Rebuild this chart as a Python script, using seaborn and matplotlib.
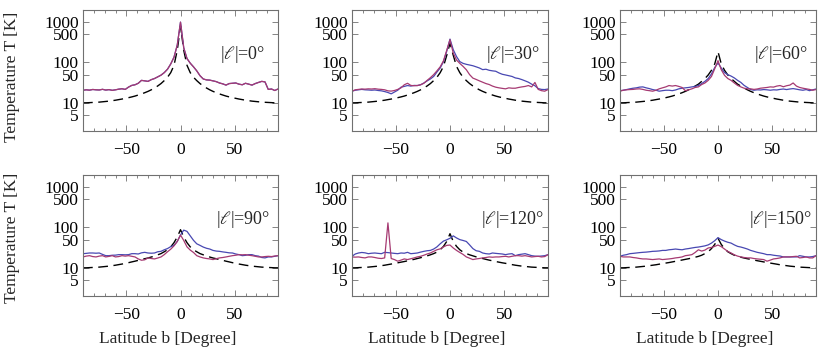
import numpy as np
import pandas as pd
import matplotlib
matplotlib.use("Agg")
import matplotlib.pyplot as plt
import seaborn as sns
from matplotlib.ticker import FixedLocator, NullLocator

# ---------------- data ----------------
latitude = list(range(-90, 91, 3))          # 61 grid points, degrees

panel_labels = [r"|$\ell$|=0°", r"|$\ell$|=30°", r"|$\ell$|=60°",
                r"|$\ell$|=90°", r"|$\ell$|=120°", r"|$\ell$|=150°"]

# measured temperature, "red" (magenta) series
red_0 = [20.5, 21.0, 20.6, 21.4, 21.0, 20.8, 21.6, 20.7, 21.2, 20.4,
         21.0, 21.8, 22.3, 21.5, 24.5, 27.0, 28.0, 30.5, 36.0, 35.0,
         34.0, 37.5, 40.0, 44.0, 48.5, 56.0, 68.0, 92.0, 135.0, 270.0,
         1000, 230, 125, 96, 78, 62, 47, 39, 37, 36.5,
         35.0, 33.5, 31.0, 29.5, 27.5, 30.0, 30.5, 31.0, 29.0, 28.0,
         30.5, 29.0, 27.5, 30.0, 32.0, 34.0, 33.0, 21.5, 22.0, 20.2,
         22.0]
blue_0 = [20.5, 21.0, 20.6, 21.4, 21.0, 20.8, 21.6, 20.7, 21.2, 20.4,
          21.0, 21.8, 22.3, 21.5, 24.5, 27.0, 28.0, 30.5, 36.0, 35.0,
          34.0, 37.5, 40.0, 44.0, 48.5, 56.0, 68.0, 92.0, 135.0, 270.0,
          1000, 230, 125, 96, 78, 62, 47, 39, 37, 36.5,
          35.0, 33.5, 31.0, 29.5, 27.5, 30.0, 30.5, 31.0, 29.0, 28.0,
          30.5, 29.0, 27.5, 30.0, 32.0, 34.0, 33.0, 21.5, 22.0, 20.2,
          22.0]

red_30 = [19.4, 21.0, 21.5, 22.0, 21.8, 22.2, 22.0, 22.4, 21.8, 21.5,
          21.0, 19.8, 19.5, 20.2, 21.5, 23.5, 28.0, 30.5, 27.0, 26.5,
          26.8, 28.0, 30.5, 36.0, 42.0, 50.0, 62.0, 78.0, 110, 200,
          366, 171, 115, 95, 80, 66, 50, 41, 38, 35,
          32.4, 30.0, 28.4, 26.0, 24.4, 23.5, 22.8, 22.2, 23.5, 23.0,
          23.0, 24.0, 24.8, 25.5, 26.8, 24.8, 32.0, 21.5, 20.0, 19.4,
          21.3]
blue_30 = [19.4, 20.5, 21.0, 21.5, 21.0, 20.8, 20.5, 20.8, 20.2, 19.8,
           19.0, 18.0, 16.7, 18.5, 20.5, 24.4, 25.5, 26.8, 26.0, 27.0,
           26.8, 28.0, 31.0, 35.0, 39.0, 45.0, 58.0, 73.0, 105, 190,
           380, 207, 140, 105, 95, 90, 86.5, 83, 78, 73,
           66.5, 68.0, 64.0, 62.0, 60.6, 55.0, 51.0, 49.0, 47.0, 45.0,
           41.4, 40.0, 37.6, 35.0, 32.4, 29.0, 26.5, 22.5, 21.5, 21.3,
           22.0]

red_60 = [19.4, 20.5, 21.0, 21.3, 21.5, 22.0, 22.2, 21.5, 20.5, 20.0,
          19.4, 20.5, 22.2, 23.5, 24.8, 26.8, 26.0, 26.8, 25.5, 24.0,
          20.0, 21.0, 22.2, 24.0, 24.8, 28.4, 31.0, 36.0, 45.0, 70.0,
          111, 66, 48, 40, 36, 31, 27, 24.8, 23.0, 22.2,
          22.2, 21.5, 22.0, 23.0, 23.5, 24.0, 24.8, 24.5, 26.0, 26.8,
          25.0, 26.5, 27.5, 31.0, 26.0, 24.0, 23.0, 22.2, 21.5, 20.5,
          21.3]
blue_60 = [20.0, 20.5, 21.3, 22.2, 23.0, 23.5, 24.5, 24.8, 23.5, 22.5,
           21.3, 20.5, 19.4, 20.0, 20.5, 20.5, 20.0, 20.8, 22.2, 23.0,
           23.5, 24.0, 24.8, 25.5, 26.8, 30.0, 34.0, 40.0, 52.0, 75.0,
           97, 73, 56, 50, 46, 41.4, 36.0, 32.0, 27.0, 24.0,
           21.3, 20.5, 21.0, 20.8, 21.3, 21.0, 20.5, 21.0, 20.8, 21.5,
           22.0, 21.3, 22.0, 22.5, 21.8, 21.0, 20.5, 21.3, 20.0, 21.0,
           22.0]

red_90 = [18.6, 19.5, 20.0, 19.0, 18.6, 19.5, 20.0, 18.6, 19.2, 20.0,
          18.6, 19.0, 20.0, 19.5, 20.0, 19.3, 18.6, 16.6, 15.4, 15.8,
          17.6, 17.0, 16.6, 17.5, 18.6, 21.2, 25.0, 29.0, 35.0, 45.0,
          65, 47.6, 33.0, 27.5, 24.0, 20.0, 18.6, 17.6, 17.0, 16.6,
          16.0, 16.8, 17.6, 18.0, 18.6, 19.3, 20.0, 20.5, 21.2, 21.0,
          21.2, 20.5, 20.0, 19.3, 18.6, 18.6, 19.0, 19.3, 19.0, 19.6,
          20.0]
blue_90 = [22.4, 22.8, 23.3, 23.3, 23.0, 23.3, 21.5, 20.0, 20.0, 20.5,
           20.6, 21.2, 21.2, 21.0, 21.2, 22.4, 22.4, 22.0, 23.5, 24.2,
           23.3, 23.0, 23.3, 25.0, 25.6, 28.0, 30.0, 33.5, 36.0, 45.0,
           65, 86, 80, 62, 48, 39.4, 36.0, 32.7, 30.5, 29.2,
           27.0, 26.0, 25.6, 24.8, 24.2, 23.5, 23.3, 22.0, 21.2, 20.0,
           20.4, 21.2, 21.2, 20.0, 19.5, 18.0, 17.6, 18.6, 18.6, 19.3,
           20.0]

red_120 = [18.6, 18.4, 18.6, 18.0, 17.6, 18.6, 18.6, 18.0, 17.3, 17.0,
           17.6, 130, 17.0, 16.0, 14.6, 15.5, 16.6, 16.0, 16.8, 17.6,
           18.6, 19.3, 20.5, 22.0, 23.3, 25.6, 28.0, 29.5, 33.0, 36.0,
           36.7, 31.0, 27.0, 24.0, 21.5, 18.6, 17.3, 16.0, 16.6, 17.0,
           17.6, 18.0, 18.6, 18.3, 18.6, 18.6, 19.0, 19.3, 18.6, 19.3,
           20.0, 20.0, 19.5, 20.0, 19.3, 18.6, 19.0, 19.3, 18.6, 19.0,
           21.2]
blue_120 = [19.3, 22.0, 23.3, 24.0, 23.5, 22.4, 23.0, 23.3, 22.8, 22.4,
            24.2, 23.8, 23.3, 22.8, 22.4, 23.3, 23.0, 24.2, 22.4, 22.8,
            23.3, 24.5, 25.6, 26.5, 27.0, 29.2, 33.0, 39.4, 46.0, 49.5,
            54, 62, 55, 50, 47.6, 45, 37, 30, 26.5, 25.6,
            23.3, 22.4, 22.0, 23.3, 22.8, 22.4, 22.0, 21.2, 22.0, 22.4,
            20.0, 21.2, 21.8, 22.4, 21.2, 20.0, 19.5, 19.3, 19.6, 20.0,
            21.2]

red_150 = [19.3, 18.6, 18.6, 18.6, 18.0, 17.6, 17.0, 16.6, 16.6, 16.3,
           16.0, 16.3, 16.6, 16.0, 16.3, 16.6, 17.0, 17.6, 18.0, 18.6,
           20.0, 20.5, 21.2, 24.0, 28.0, 26.0, 27.5, 31.0, 32.0, 34.0,
           36.7, 33.5, 29.2, 25.5, 23.3, 21.0, 19.5, 18.6, 18.0, 17.6,
           17.6, 17.0, 16.6, 16.3, 16.0, 14.6, 15.5, 16.6, 17.0, 17.6,
           18.6, 18.6, 18.6, 19.0, 19.3, 17.6, 18.0, 18.6, 17.6, 17.6,
           20.0]
blue_150 = [19.3, 20.5, 21.2, 22.4, 22.8, 23.3, 23.8, 24.2, 24.5, 25.0,
            25.6, 25.8, 26.2, 27.0, 27.0, 28.0, 28.5, 29.2, 28.5, 28.0,
            29.2, 30.0, 31.0, 32.0, 32.7, 33.8, 35.0, 37.0, 41.0, 47.0,
            56, 50, 46.0, 43.0, 41.0, 37.0, 34.0, 32.7, 31.0, 29.2,
            27.0, 25.6, 24.2, 23.3, 22.4, 21.2, 21.2, 20.5, 20.0, 19.6,
            18.6, 18.6, 18.6, 18.6, 18.6, 20.0, 19.3, 18.6, 18.6, 19.0,
            20.0]

# model curves (dashed), symmetric in b: values at |b| = 0, 3, 6, ..., 90
model_0 = [800, 200, 85, 56, 43, 35.5, 30, 26.2, 23.3, 21.0, 19.2, 17.8, 16.6, 15.6, 14.7, 14.0,
           13.4, 12.9, 12.4, 12.0, 11.6, 11.3, 11.0, 10.8, 10.6, 10.4, 10.3, 10.2, 10.1, 10.0, 10.0]
model_30 = [300, 150, 80, 56, 43, 35.5, 30, 26.2, 23.3, 21.0, 19.2, 17.8, 16.6, 15.6, 14.7, 14.0,
            13.4, 12.9, 12.4, 12.0, 11.6, 11.3, 11.0, 10.8, 10.6, 10.4, 10.3, 10.2, 10.1, 10.0, 10.0]
model_60 = [185, 92, 64, 49, 40, 34, 29, 26.0, 23.3, 21.0, 19.2, 17.8, 16.6, 15.6, 14.7, 14.0,
            13.4, 12.9, 12.4, 12.0, 11.6, 11.3, 11.0, 10.8, 10.6, 10.4, 10.3, 10.2, 10.1, 10.0, 10.0]
model_90 = [88, 58, 42, 33, 28, 25, 22.5, 21.0, 19.5, 18.5, 17.5, 16.8, 16.0, 15.3, 14.6, 14.0,
            13.4, 12.9, 12.4, 12.0, 11.6, 11.3, 11.0, 10.8, 10.6, 10.4, 10.3, 10.2, 10.1, 10.0, 10.0]
model_120 = [70, 45, 34, 28, 24.5, 22.5, 21.0, 19.8, 18.7, 17.8, 17.0, 16.2, 15.5, 14.9, 14.3, 13.8,
             13.3, 12.9, 12.4, 12.0, 11.6, 11.3, 11.0, 10.8, 10.6, 10.4, 10.3, 10.2, 10.1, 10.0, 10.0]
model_150 = [54, 38, 30, 25, 22.5, 20.5, 19.2, 18.3, 17.5, 16.8, 16.2, 15.6, 15.0, 14.5, 14.0, 13.5,
             13.1, 12.7, 12.3, 11.9, 11.6, 11.3, 11.0, 10.8, 10.6, 10.4, 10.3, 10.2, 10.1, 10.0, 10.0]

blue_series = [blue_0, blue_30, blue_60, blue_90, blue_120, blue_150]
red_series = [red_0, red_30, red_60, red_90, red_120, red_150]
model_series = [model_0, model_30, model_60, model_90, model_120, model_150]

y_ticks = [5, 10, 50, 100, 500, 1000]
x_ticks = [-50, 0, 50]
x_ticklabels = ["\u221250", "0", "50"]

# ---------------- build long table ----------------
rows = []
for p in range(6):
    half = model_series[p]
    full_model = list(half[::-1]) + list(half[1:])
    for name, vals in (("model", full_model), ("blue", blue_series[p]), ("red", red_series[p])):
        for b, t in zip(latitude, vals):
            rows.append({"panel": p, "series": name, "b": b, "T": t})
df = pd.DataFrame(rows)

# ---------------- style ----------------
sns.set_style("ticks")
plt.rcParams["font.family"] = ["Liberation Serif", "DejaVu Serif"]
plt.rcParams["mathtext.fontset"] = "stix"
plt.rcParams["axes.unicode_minus"] = True

W, H = 830, 355
fig = plt.figure(figsize=(W / 100, H / 100), dpi=100)

col_left = [83, 352, 620]
col_w = [195, 196, 196]
row_top = [10, 175]
ax_h = 121

frame_col = "#707070"
colors = {"model": "black", "blue": "#4848b2", "red": "#a63a72"}

for p in range(6):
    r, c = divmod(p, 3)
    ax = fig.add_axes([col_left[c] / W, 1 - (row_top[r] + ax_h) / H, col_w[c] / W, ax_h / H])
    sub = df[df.panel == p]
    sns.lineplot(data=sub[sub.series == "model"], x="b", y="T", ax=ax, color="black",
                 lw=1.0, estimator=None, sort=False, linestyle=(0, (7, 4)))
    sns.lineplot(data=sub[sub.series == "blue"], x="b", y="T", ax=ax, color=colors["blue"],
                 lw=0.9, estimator=None, sort=False)
    sns.lineplot(data=sub[sub.series == "red"], x="b", y="T", ax=ax, color=colors["red"],
                 lw=0.9, estimator=None, sort=False)
    ax.set_yscale("log")
    ax.set_ylim(2, 2000)
    ax.set_xlim(-90, 90)
    ax.set_yticks(y_ticks)
    ax.set_yticklabels([str(v) for v in y_ticks])
    ax.yaxis.set_minor_locator(NullLocator())
    ax.set_xticks(x_ticks)
    ax.set_xticklabels(x_ticklabels)
    ax.xaxis.set_minor_locator(FixedLocator(list(range(-80, 90, 10))))
    ax.set_xlabel("")
    ax.set_ylabel("")
    ax.tick_params(which="both", direction="in", top=True, right=True, color=frame_col,
                   width=0.6, labelsize=12.5, labelcolor="black")
    ax.tick_params(which="major", length=4)
    ax.tick_params(which="minor", length=2)
    ax.tick_params(axis="y", pad=3)
    ax.tick_params(axis="x", pad=8)
    for s in ax.spines.values():
        s.set_color(frame_col)
        s.set_linewidth(0.8)
    ax.text(0.82, 0.63, panel_labels[p], transform=ax.transAxes, ha="center", va="center",
            fontsize=13)

fig.text(12 / W, 1 - 77 / H, "Temperature T [K]", rotation=90, ha="center", va="center", fontsize=12.5)
fig.text(12 / W, 1 - 238 / H, "Temperature T [K]", rotation=90, ha="center", va="center", fontsize=12.5)
for c in range(3):
    cx = col_left[c] + col_w[c] / 2 - 13
    fig.text(cx / W, 1 - 339 / H, "Latitude b [Degree]", ha="center", va="center", fontsize=12.5)

fig.savefig("out.png", dpi=100)
